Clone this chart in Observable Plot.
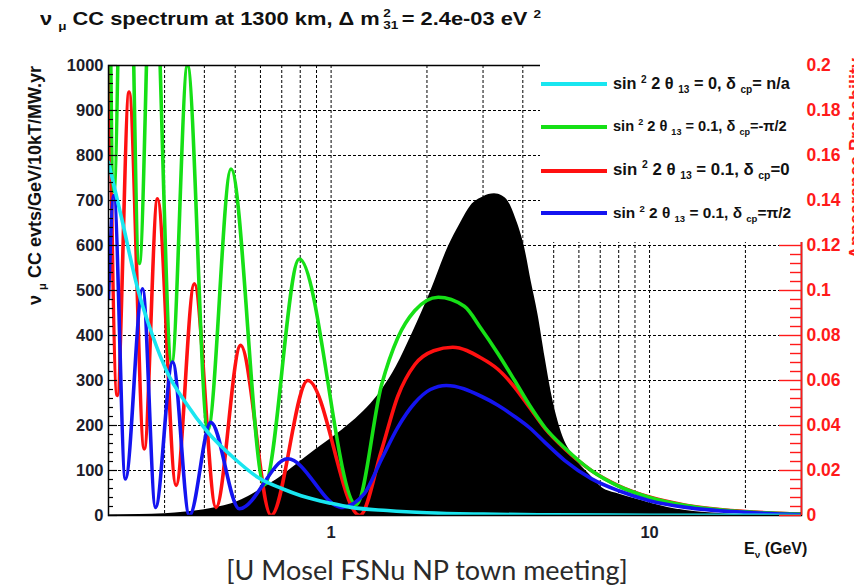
<!DOCTYPE html>
<html>
<head>
<meta charset="utf-8">
<script src="https://cdn.jsdelivr.net/npm/d3@7"></script>
<script src="https://cdn.jsdelivr.net/npm/@observablehq/plot@0.6"></script>
<style>
  body { margin: 0; background: #fff; }
  #wrap { position: relative; width: 854px; height: 588px; overflow: hidden; background: #fff;
          font-family: "Liberation Sans", Arial, Helvetica, sans-serif; }
  #chart { position: absolute; left: 0; top: 0; }
  .t { position: absolute; white-space: nowrap; font-weight: bold; color: #111; line-height: 1; }
  .t sub, .t sup { font-size: 62%; line-height: 0; }
  .stack { display: inline-block; vertical-align: -0.35em; line-height: 1.05; font-size: 62%; text-align: left; margin: 0 3px 0 3px; }
  .stack span { display: block; }
  #legend { position: absolute; left: 540px; top: 62px; width: 263px; height: 180px; background: #fff; }
  .entry { position: absolute; left: 0; width: 263px; }
  .entry .sw { position: absolute; left: 1px; width: 66px; height: 4px; }
  .entry .lab { position: absolute; left: 73px; white-space: nowrap; font-weight: bold; color: #111; line-height: 1; }
  .lab sub, .lab sup { font-size: 62%; line-height: 0; }
  .rot { position: absolute; white-space: nowrap; font-weight: bold; line-height: 1;
         transform-origin: 0 0; transform: rotate(-90deg) translate(-100%, -50%); }
  .rot sub { font-size: 62%; line-height: 0; }
  #caption { position: absolute; left: 0; width: 854px; text-align: center; top: 553px;
             font-family: Lato, "Open Sans", sans-serif; font-weight: 400; font-size: 27px; color: #2a2a2a; white-space: nowrap; }
</style>
</head>
<body>
<div id="wrap">
  <div id="chart"></div>
  <div id="legend"></div>
  <div class="t" id="title" style="left:40px; top:7px; font-size:19px; transform-origin:0 0; transform:scaleX(1.15);">ν <sub>μ</sub> CC spectrum at 1300 km, Δ m<span class="stack"><span>2</span><span>31</span></span>= 2.4e-03 eV <sup>2</sup></div>
  <div class="rot" style="left:35px; top:66px; font-size:18px; color:#111;">ν <sub>μ</sub> CC evts/GeV/10kT/MW.yr</div>
  <div class="rot" style="left:856px; top:58px; font-size:18px; color:#ff1a1a;">Appearance Probability</div>
  <div class="t" style="left:744px; top:541px; font-size:16px;">E<sub>ν</sub> (GeV)</div>
  <div id="caption">[U Mosel FSNu NP town meeting]</div>
</div>
<script>
// Axis ranges
const xDomain = [0.2, 30];          // neutrino energy, GeV (log)
const yDomain = [0, 1000];          // events / GeV / 10 kT / MW.yr
const probDomain = [0, 0.2];        // appearance probability (right axis)

// Ticks and grid
const yMajor = [0, 100, 200, 300, 400, 500, 600, 700, 800, 900, 1000];
const yMinor = d3.range(0, 1000, 20).filter(v => v % 100 !== 0);
const yGrid = [100, 200, 300, 400, 500, 600, 700, 800, 900];
const xGrid = [0.3, 0.4, 0.5, 0.6, 0.7, 0.8, 0.9, 1, 2, 3, 4, 5, 6, 7, 8, 9, 10, 20];
const xLabels = [1, 10];
const probMajor = [0, 0.02, 0.04, 0.06, 0.08, 0.1, 0.12, 0.14, 0.16, 0.18, 0.2];
const probMinor = d3.range(0, 0.2, 0.004).filter((p, i) => i % 5 !== 0);

// Unoscillated nu_mu CC spectrum [E (GeV), events]
const spectrum = [
  [0.2, 1], [0.25, 2], [0.3, 4], [0.35, 8], [0.4, 13], [0.45, 20], [0.5, 29], [0.55, 42],
  [0.6, 58], [0.7, 88], [0.8, 120], [0.9, 148], [1.0, 171], [1.16, 207], [1.3, 240],
  [1.44, 278], [1.6, 330], [1.8, 405], [2.06, 500], [2.33, 596], [2.55, 650], [2.75, 689],
  [3.0, 708], [3.26, 715], [3.45, 710], [3.6, 698], [3.8, 660], [4.05, 596], [4.25, 520],
  [4.46, 448], [4.7, 350], [4.92, 271], [5.3, 182], [5.8, 130], [6.5, 90], [7.06, 63],
  [8, 48], [9, 37], [10, 28], [11.4, 18], [13, 11], [14.6, 7], [17, 4], [20, 2.5], [25, 1], [30, 0.5]
];

// sin^2 2θ13 = 0 (solar term only)
const theta0 = [
  [0.2, 785], [0.22, 660], [0.247, 504], [0.275, 400], [0.306, 318], [0.35, 250], [0.41, 185],
  [0.5, 125], [0.588, 85], [0.7, 60], [0.805, 44], [1.0, 27], [1.156, 18], [1.5, 11], [2, 6],
  [3, 3], [5, 1.5], [10, 0.6], [30, 0.1]
];

// sin^2 2θ13 = 0.1, δcp = -π/2
const deltaMinus = [
  [0.2, 1500], [0.208, 720], [0.226, 1800], [0.25, 560], [0.275, 1350], [0.316, 340],
  [0.354, 1000], [0.41, 190], [0.485, 770], [0.617, 68], [0.795, 570], [1.2, 24],
  [1.44, 290], [1.62, 395], [1.83, 455], [2.17, 485], [2.62, 465], [2.96, 415], [3.34, 360],
  [3.77, 300], [4.2, 245], [4.7, 195], [5.42, 150], [6.56, 100], [8, 65], [10, 40], [13, 22],
  [20, 8], [30, 3]
];

// sin^2 2θ13 = 0.1, δcp = 0
const deltaZero = [
  [0.2, 1150], [0.213, 267], [0.232, 941], [0.259, 148], [0.285, 704], [0.326, 67],
  [0.372, 515], [0.435, 18], [0.52, 378], [0.648, 0], [0.845, 300], [1.23, 0],
  [1.44, 145], [1.62, 265], [1.83, 335], [2.1, 366], [2.41, 374], [2.96, 350], [3.34, 325],
  [3.77, 285], [4.2, 240], [4.7, 193], [5.42, 148], [6.56, 100], [8, 66], [10, 41], [13, 23],
  [20, 9], [30, 3]
];

// sin^2 2θ13 = 0.1, δcp = π/2
const deltaPlus = [
  [0.2, 482], [0.208, 711], [0.226, 81], [0.256, 504], [0.281, 18], [0.318, 341],
  [0.359, 0], [0.419, 207], [0.515, 15], [0.731, 126], [1.08, 18], [1.27, 48],
  [1.44, 125], [1.62, 196], [1.83, 250], [2.05, 280], [2.3, 289], [2.96, 265], [3.34, 245],
  [3.77, 220], [4.2, 195], [4.7, 162], [5.42, 122], [6.56, 82], [8, 55], [10, 33], [13, 18],
  [20, 7], [30, 2]
];

const series = [
  { label: "sin²2θ13 = 0, δcp = n/a",    color: "#19e6f0", data: theta0 },
  { label: "sin²2θ13 = 0.1, δcp = -π/2", color: "#16e016", data: deltaMinus },
  { label: "sin²2θ13 = 0.1, δcp = 0",    color: "#ff1010", data: deltaZero },
  { label: "sin²2θ13 = 0.1, δcp = π/2",  color: "#1414f0", data: deltaPlus }
];

const W = 854, H = 588, mL = 108, mR = 53, mT = 65, mB = 73;
const frameW = W - mL - mR;
const toY = p => p / probDomain[1] * yDomain[1];
const font = "Liberation Sans, Arial, Helvetica, sans-serif";
const lineOpts = (s) => ({ x: d => d[0], y: d => d[1], stroke: s.color, strokeWidth: 3.6,
  curve: "monotone-x", clip: true });

const chart = Plot.plot({
  width: W, height: H,
  marginLeft: mL, marginRight: mR, marginTop: mT, marginBottom: mB,
  x: { type: "log", domain: xDomain, axis: null },
  y: { domain: yDomain, axis: null },
  style: { background: "transparent", fontFamily: font, overflow: "visible" },
  marks: [
    Plot.ruleX(xGrid, { stroke: "#000", strokeWidth: 1, strokeDasharray: "3,2" }),
    Plot.ruleY(yGrid, { stroke: "#000", strokeWidth: 1, strokeDasharray: "3,2" }),
    Plot.areaY(spectrum, { x: d => d[0], y: d => d[1], fill: "#000", curve: "monotone-x" }),
    Plot.line(deltaZero, lineOpts(series[2])),
    Plot.line(deltaMinus, lineOpts(series[1])),
    Plot.line(deltaPlus, lineOpts(series[3])),
    Plot.line(theta0, lineOpts(series[0])),
    Plot.frame({ stroke: "#000", strokeWidth: 1.5 }),
    // left axis ticks (inside)
    Plot.ruleY(yMinor, { stroke: "#000", strokeWidth: 1.2, insetRight: frameW - 5 }),
    Plot.ruleY(yMajor, { stroke: "#000", strokeWidth: 1.2, insetRight: frameW - 9 }),
    // right axis: appearance probability
    Plot.ruleX([xDomain[1]], { stroke: "#ff1a1a", strokeWidth: 1.6 }),
    Plot.ruleY(probMinor, { y: toY, stroke: "#ff1a1a", strokeWidth: 1.4, insetLeft: frameW - 11 }),
    Plot.ruleY(probMajor, { y: toY, stroke: "#ff1a1a", strokeWidth: 1.4, insetLeft: frameW - 22 }),
    // tick labels
    Plot.text(yMajor, { y: d => d, frameAnchor: "left", dx: -5, textAnchor: "end",
      text: d => String(d), fontSize: 16.5, fontWeight: "bold", fill: "#1c1c2a" }),
    Plot.text(probMajor, { y: toY, frameAnchor: "right", dx: 5, textAnchor: "start",
      text: p => String(p), fontSize: 17.5, fontWeight: "bold", fill: "#ff1a1a" }),
    Plot.text(xLabels, { x: d => d, frameAnchor: "bottom", dy: 22, text: d => String(d),
      fontSize: 16.5, fontWeight: "bold", fill: "#1c1c2a" })
  ]
});
document.getElementById("chart").appendChild(chart);

// Legend: coloured line samples with the oscillation-parameter labels
const legendRows = [
  { html: 'sin <sup>2</sup> 2 θ <sub>13</sub> = 0, δ <sub>cp</sub>= n/a', size: 16.3 },
  { html: 'sin <sup>2</sup> 2 θ <sub>13</sub> = 0.1, δ <sub>cp</sub>=-π/2', size: 14.6 },
  { html: 'sin <sup>2</sup> 2 θ <sub>13</sub> = 0.1, δ <sub>cp</sub>=0', size: 16.8 },
  { html: 'sin <sup>2</sup> 2 θ <sub>13</sub> = 0.1, δ <sub>cp</sub>=π/2', size: 15.4 }
];
const legend = d3.select("#legend");
const rowY = [22, 65, 109, 151];
legendRows.forEach((r, i) => {
  const e = legend.append("div").attr("class", "entry").style("top", rowY[i] + "px");
  e.append("div").attr("class", "sw").style("background", series[i].color).style("top", "-2px");
  e.append("div").attr("class", "lab").style("font-size", r.size + "px")
    .style("top", (-r.size * 0.55) + "px").html(r.html);
});
</script>
</body>
</html>
